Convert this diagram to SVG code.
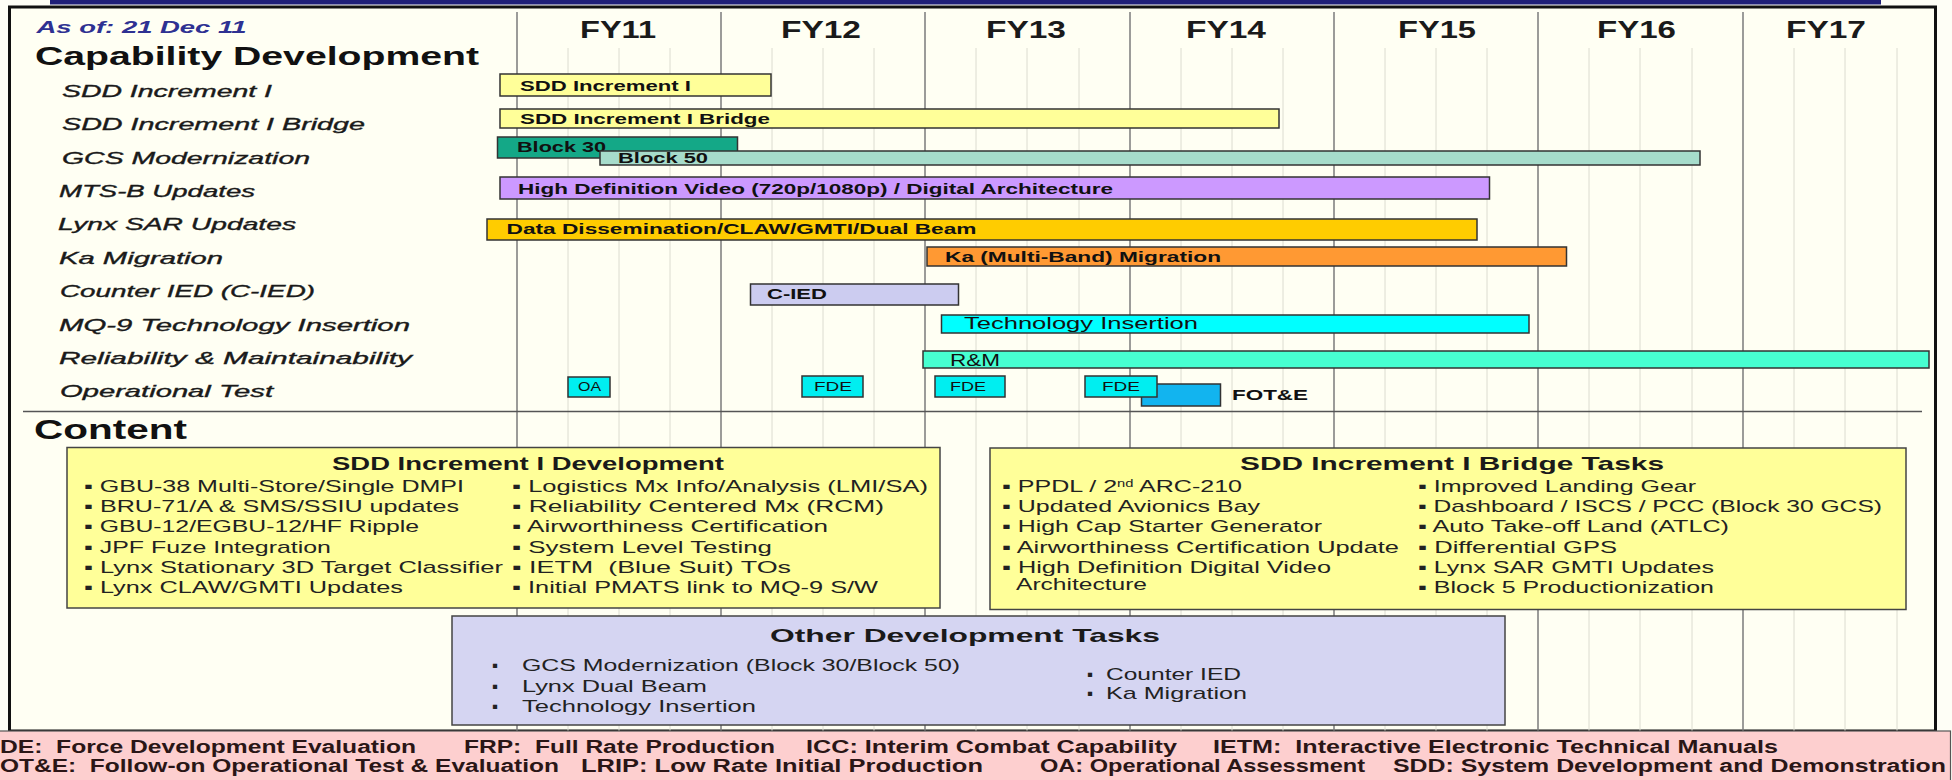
<svg xmlns="http://www.w3.org/2000/svg" width="1952" height="780" viewBox="0 0 1952 780">
<style>
text{font-family:"Liberation Sans",Arial,"DejaVu Sans",sans-serif;white-space:pre}
.lbl{font-style:italic;font-size:16.5px;fill:#1a1a1a;stroke:#1a1a1a;stroke-width:0.35}
.fy{font-weight:bold;font-size:24px;fill:#1a1a1a}
.bar{stroke:#333;stroke-width:1.5}
.bt{font-weight:bold;font-size:15px;fill:#111}
.br{font-size:16px;fill:#111}
.sm{font-size:12px;fill:#111}
.box{stroke:#444;stroke-width:1.5}
.bx{font-size:17px;fill:#222}
.bh{font-weight:bold;font-size:18.5px;fill:#1a1a1a}
.leg{font-weight:bold;font-size:18px;fill:#2a1616}
.maj{stroke:#7c7c7c;stroke-width:1.5}
.min{stroke:#dcdcd0;stroke-width:1}
</style>
<rect x="0" y="0" width="1952" height="780" fill="#fefef6"/>
<rect x="50" y="0" width="1831" height="4.5" fill="#1f1f78"/>
<rect x="9.5" y="7" width="1926" height="724" fill="#fffff3" stroke="#111" stroke-width="3"/>

<g id="grid">
<g class="min">
<path d="M568 48V731M619 48V731M670 48V731M772 48V731M823 48V731M874 48V731M976 48V731M1027 48V731M1079 48V731M1181 48V731M1232 48V731M1283 48V731M1385 48V731M1436 48V731M1487 48V731M1589 48V731M1640 48V731M1692 48V731M1794 48V731M1845 48V731M1897 48V731"/>
</g>
<g class="maj">
<path d="M517 12V731M721 12V731M925 12V731M1130 12V731M1334 12V731M1538 12V731M1743 12V731"/>
</g>
<path d="M23 411.5H1922" stroke="#555" stroke-width="1.5"/>
</g>

<g id="header">
<text x="36.5" y="32.5" textLength="210" lengthAdjust="spacingAndGlyphs" style="font-weight:bold;font-style:italic;font-size:17px;fill:#2e3192">As of: 21 Dec 11</text>
<text x="35" y="65" textLength="444" lengthAdjust="spacingAndGlyphs" style="font-weight:bold;font-size:26px;fill:#111">Capability Development</text>
<text x="34" y="439" textLength="153" lengthAdjust="spacingAndGlyphs" style="font-weight:bold;font-size:28px;fill:#111">Content</text>
<text class="fy" x="580" y="38.3" textLength="76" lengthAdjust="spacingAndGlyphs">FY11</text>
<text class="fy" x="781" y="38.3" textLength="80" lengthAdjust="spacingAndGlyphs">FY12</text>
<text class="fy" x="986" y="38.3" textLength="80" lengthAdjust="spacingAndGlyphs">FY13</text>
<text class="fy" x="1186" y="38.3" textLength="80" lengthAdjust="spacingAndGlyphs">FY14</text>
<text class="fy" x="1398" y="38.3" textLength="78" lengthAdjust="spacingAndGlyphs">FY15</text>
<text class="fy" x="1597" y="38.3" textLength="79" lengthAdjust="spacingAndGlyphs">FY16</text>
<text class="fy" x="1786" y="38.3" textLength="80" lengthAdjust="spacingAndGlyphs">FY17</text>
</g>

<g id="row-labels">
<text class="lbl" x="62" y="96.7" textLength="210" lengthAdjust="spacingAndGlyphs">SDD Increment I</text>
<text class="lbl" x="62" y="130" textLength="303" lengthAdjust="spacingAndGlyphs">SDD Increment I Bridge</text>
<text class="lbl" x="62" y="163.5" textLength="248" lengthAdjust="spacingAndGlyphs">GCS Modernization</text>
<text class="lbl" x="59" y="197" textLength="196" lengthAdjust="spacingAndGlyphs">MTS-B Updates</text>
<text class="lbl" x="58" y="230.3" textLength="238" lengthAdjust="spacingAndGlyphs">Lynx SAR Updates</text>
<text class="lbl" x="59" y="263.7" textLength="164" lengthAdjust="spacingAndGlyphs">Ka Migration</text>
<text class="lbl" x="60" y="297" textLength="255" lengthAdjust="spacingAndGlyphs">Counter IED (C-IED)</text>
<text class="lbl" x="59" y="330.5" textLength="351" lengthAdjust="spacingAndGlyphs">MQ-9 Technology Insertion</text>
<text class="lbl" x="59" y="364" textLength="353" lengthAdjust="spacingAndGlyphs">Reliability &amp; Maintainability</text>
<text class="lbl" x="60" y="397.3" textLength="213" lengthAdjust="spacingAndGlyphs">Operational Test</text>
</g>

<g id="bar-sdd1">
<rect class="bar" x="500" y="74" width="271" height="22" fill="#ffff99"/>
<text class="bt" x="520" y="90.7" textLength="171" lengthAdjust="spacingAndGlyphs">SDD Increment I</text>
</g>
<g id="bar-bridge">
<rect class="bar" x="500" y="109" width="779" height="19" fill="#ffff99"/>
<text class="bt" x="520" y="124" textLength="250" lengthAdjust="spacingAndGlyphs">SDD Increment I Bridge</text>
</g>
<g id="bar-block30">
<rect class="bar" x="497.5" y="137" width="240" height="21" fill="#14a887"/>
<text class="bt" x="517" y="151.5" textLength="89" lengthAdjust="spacingAndGlyphs">Block 30</text>
</g>
<g id="bar-block50">
<rect class="bar" x="600" y="151" width="1100" height="14" fill="#a6dccb"/>
<text class="bt" x="618" y="162.5" textLength="90" lengthAdjust="spacingAndGlyphs">Block 50</text>
</g>
<g id="bar-mtsb">
<rect class="bar" x="500" y="177" width="989.5" height="22" fill="#cc99ff"/>
<text class="bt" x="518" y="194" textLength="595" lengthAdjust="spacingAndGlyphs">High Definition Video (720p/1080p) / Digital Architecture</text>
</g>
<g id="bar-lynx">
<rect class="bar" x="487" y="219" width="990" height="21" fill="#ffcc00"/>
<text class="bt" x="506.5" y="234" textLength="470" lengthAdjust="spacingAndGlyphs">Data Dissemination/CLAW/GMTI/Dual Beam</text>
</g>
<g id="bar-ka">
<rect class="bar" x="927" y="247" width="639.5" height="19" fill="#ff9933"/>
<text class="bt" x="945" y="261.7" textLength="276" lengthAdjust="spacingAndGlyphs">Ka (Multi-Band) Migration</text>
</g>
<g id="bar-cied">
<rect class="bar" x="750.5" y="284" width="208" height="21" fill="#ccccf0"/>
<text class="bt" x="767" y="299" textLength="60" lengthAdjust="spacingAndGlyphs">C-IED</text>
</g>
<g id="bar-ti">
<rect class="bar" x="941.5" y="315" width="587.5" height="18" fill="#00ffff"/>
<text class="br" x="964" y="329" textLength="234" lengthAdjust="spacingAndGlyphs">Technology Insertion</text>
</g>
<g id="bar-rm">
<rect class="bar" x="923" y="351" width="1006" height="17" fill="#47ffd1"/>
<text class="br" x="950" y="365.5" textLength="50" lengthAdjust="spacingAndGlyphs">R&amp;M</text>
</g>
<g id="ot-oa">
<rect class="bar" x="568" y="377" width="42" height="20" fill="#00eef0"/>
<text class="sm" x="578" y="391" textLength="23" lengthAdjust="spacingAndGlyphs">OA</text>
</g>
<g id="ot-fde1">
<rect class="bar" x="802" y="376" width="61" height="21" fill="#00eef0"/>
<text class="sm" x="814" y="391" textLength="38" lengthAdjust="spacingAndGlyphs">FDE</text>
</g>
<g id="ot-fde2">
<rect class="bar" x="935" y="376" width="70" height="21" fill="#00eef0"/>
<text class="sm" x="950" y="391" textLength="36" lengthAdjust="spacingAndGlyphs">FDE</text>
</g>
<g id="ot-fote">
<rect class="bar" x="1141.5" y="384" width="79" height="22" fill="#12b4ef"/>
<text class="bt" x="1232" y="400" textLength="76" lengthAdjust="spacingAndGlyphs">FOT&amp;E</text>
</g>
<g id="ot-fde3">
<rect class="bar" x="1085" y="376" width="72" height="21" fill="#00eef0"/>
<text class="sm" x="1102" y="391" textLength="38" lengthAdjust="spacingAndGlyphs">FDE</text>
</g>

<g id="box-dev">
<rect class="box" x="67" y="447.5" width="873" height="160.5" fill="#ffff99"/>
<text class="bh" x="332" y="470" textLength="392" lengthAdjust="spacingAndGlyphs">SDD Increment I Development</text>
<text class="bx" x="84" y="491.5" textLength="380" lengthAdjust="spacingAndGlyphs">▪ GBU-38 Multi-Store/Single DMPI</text>
<text class="bx" x="84" y="511.5" textLength="375" lengthAdjust="spacingAndGlyphs">▪ BRU-71/A &amp; SMS/SSIU updates</text>
<text class="bx" x="84" y="532" textLength="335" lengthAdjust="spacingAndGlyphs">▪ GBU-12/EGBU-12/HF Ripple</text>
<text class="bx" x="84" y="552.5" textLength="247" lengthAdjust="spacingAndGlyphs">▪ JPF Fuze Integration</text>
<text class="bx" x="84" y="572.5" textLength="419" lengthAdjust="spacingAndGlyphs">▪ Lynx Stationary 3D Target Classifier</text>
<text class="bx" x="84" y="592.5" textLength="319" lengthAdjust="spacingAndGlyphs">▪ Lynx CLAW/GMTI Updates</text>
<text class="bx" x="512" y="491.5" textLength="416" lengthAdjust="spacingAndGlyphs">▪ Logistics Mx Info/Analysis (LMI/SA)</text>
<text class="bx" x="512" y="511.5" textLength="372" lengthAdjust="spacingAndGlyphs">▪ Reliability Centered Mx (RCM)</text>
<text class="bx" x="512" y="532" textLength="316" lengthAdjust="spacingAndGlyphs">▪ Airworthiness Certification</text>
<text class="bx" x="512" y="552.5" textLength="260" lengthAdjust="spacingAndGlyphs">▪ System Level Testing</text>
<text class="bx" x="512" y="572.5" textLength="279" lengthAdjust="spacingAndGlyphs">▪ IETM  (Blue Suit) TOs</text>
<text class="bx" x="512" y="592.5" textLength="366" lengthAdjust="spacingAndGlyphs">▪ Initial PMATS link to MQ-9 S/W</text>
</g>

<g id="box-bridge">
<rect class="box" x="990" y="448" width="916" height="161.5" fill="#ffff99"/>
<text class="bh" x="1240" y="470" textLength="424" lengthAdjust="spacingAndGlyphs">SDD Increment I Bridge Tasks</text>
<text class="bx" x="1002" y="491.5" textLength="240" lengthAdjust="spacingAndGlyphs">▪ PPDL / 2<tspan font-size="10" baseline-shift="super">nd</tspan> ARC-210</text>
<text class="bx" x="1002" y="511.5" textLength="258" lengthAdjust="spacingAndGlyphs">▪ Updated Avionics Bay</text>
<text class="bx" x="1002" y="532" textLength="320" lengthAdjust="spacingAndGlyphs">▪ High Cap Starter Generator</text>
<text class="bx" x="1002" y="552.5" textLength="397" lengthAdjust="spacingAndGlyphs">▪ Airworthiness Certification Update</text>
<text class="bx" x="1002" y="572.5" textLength="329" lengthAdjust="spacingAndGlyphs">▪ High Definition Digital Video</text>
<text class="bx" x="1016" y="590" textLength="131" lengthAdjust="spacingAndGlyphs">Architecture</text>
<text class="bx" x="1418" y="491.5" textLength="278" lengthAdjust="spacingAndGlyphs">▪ Improved Landing Gear</text>
<text class="bx" x="1418" y="511.5" textLength="464" lengthAdjust="spacingAndGlyphs">▪ Dashboard / ISCS / PCC (Block 30 GCS)</text>
<text class="bx" x="1418" y="532" textLength="311" lengthAdjust="spacingAndGlyphs">▪ Auto Take-off Land (ATLC)</text>
<text class="bx" x="1418" y="552.5" textLength="199" lengthAdjust="spacingAndGlyphs">▪ Differential GPS</text>
<text class="bx" x="1418" y="572.5" textLength="296" lengthAdjust="spacingAndGlyphs">▪ Lynx SAR GMTI Updates</text>
<text class="bx" x="1418" y="592.5" textLength="296" lengthAdjust="spacingAndGlyphs">▪ Block 5 Productionization</text>
</g>

<g id="box-other">
<rect class="box" x="452" y="616" width="1053" height="109" fill="#d5d5f2"/>
<text class="bh" x="770" y="642" textLength="390" lengthAdjust="spacingAndGlyphs">Other Development Tasks</text>
<text class="bx" x="492" y="670.5">▪</text>
<text class="bx" x="492" y="691.5">▪</text>
<text class="bx" x="492" y="711.5">▪</text>
<text class="bx" x="522" y="670.5" textLength="438" lengthAdjust="spacingAndGlyphs">GCS Modernization (Block 30/Block 50)</text>
<text class="bx" x="522" y="691.5" textLength="185" lengthAdjust="spacingAndGlyphs">Lynx Dual Beam</text>
<text class="bx" x="522" y="711.5" textLength="234" lengthAdjust="spacingAndGlyphs">Technology Insertion</text>
<text class="bx" x="1087" y="680">▪</text>
<text class="bx" x="1087" y="699">▪</text>
<text class="bx" x="1106" y="680" textLength="135" lengthAdjust="spacingAndGlyphs">Counter IED</text>
<text class="bx" x="1106" y="699" textLength="141" lengthAdjust="spacingAndGlyphs">Ka Migration</text>
</g>

<g id="legend">
<rect x="-2" y="731" width="1952.5" height="52" fill="#fdcfcf" stroke="#555" stroke-width="1.2"/>
<text class="leg" x="0" y="753" textLength="416" lengthAdjust="spacingAndGlyphs">DE:  Force Development Evaluation</text>
<text class="leg" x="464" y="753" textLength="311" lengthAdjust="spacingAndGlyphs">FRP:  Full Rate Production</text>
<text class="leg" x="806" y="753" textLength="371" lengthAdjust="spacingAndGlyphs">ICC: Interim Combat Capability</text>
<text class="leg" x="1213" y="753" textLength="565" lengthAdjust="spacingAndGlyphs">IETM:  Interactive Electronic Technical Manuals</text>
<text class="leg" x="0" y="772" textLength="559" lengthAdjust="spacingAndGlyphs">OT&amp;E:  Follow-on Operational Test &amp; Evaluation</text>
<text class="leg" x="581" y="772" textLength="402" lengthAdjust="spacingAndGlyphs">LRIP: Low Rate Initial Production</text>
<text class="leg" x="1040" y="772" textLength="325" lengthAdjust="spacingAndGlyphs">OA: Operational Assessment</text>
<text class="leg" x="1393" y="772" textLength="553" lengthAdjust="spacingAndGlyphs">SDD: System Development and Demonstration</text>
</g>
</svg>
